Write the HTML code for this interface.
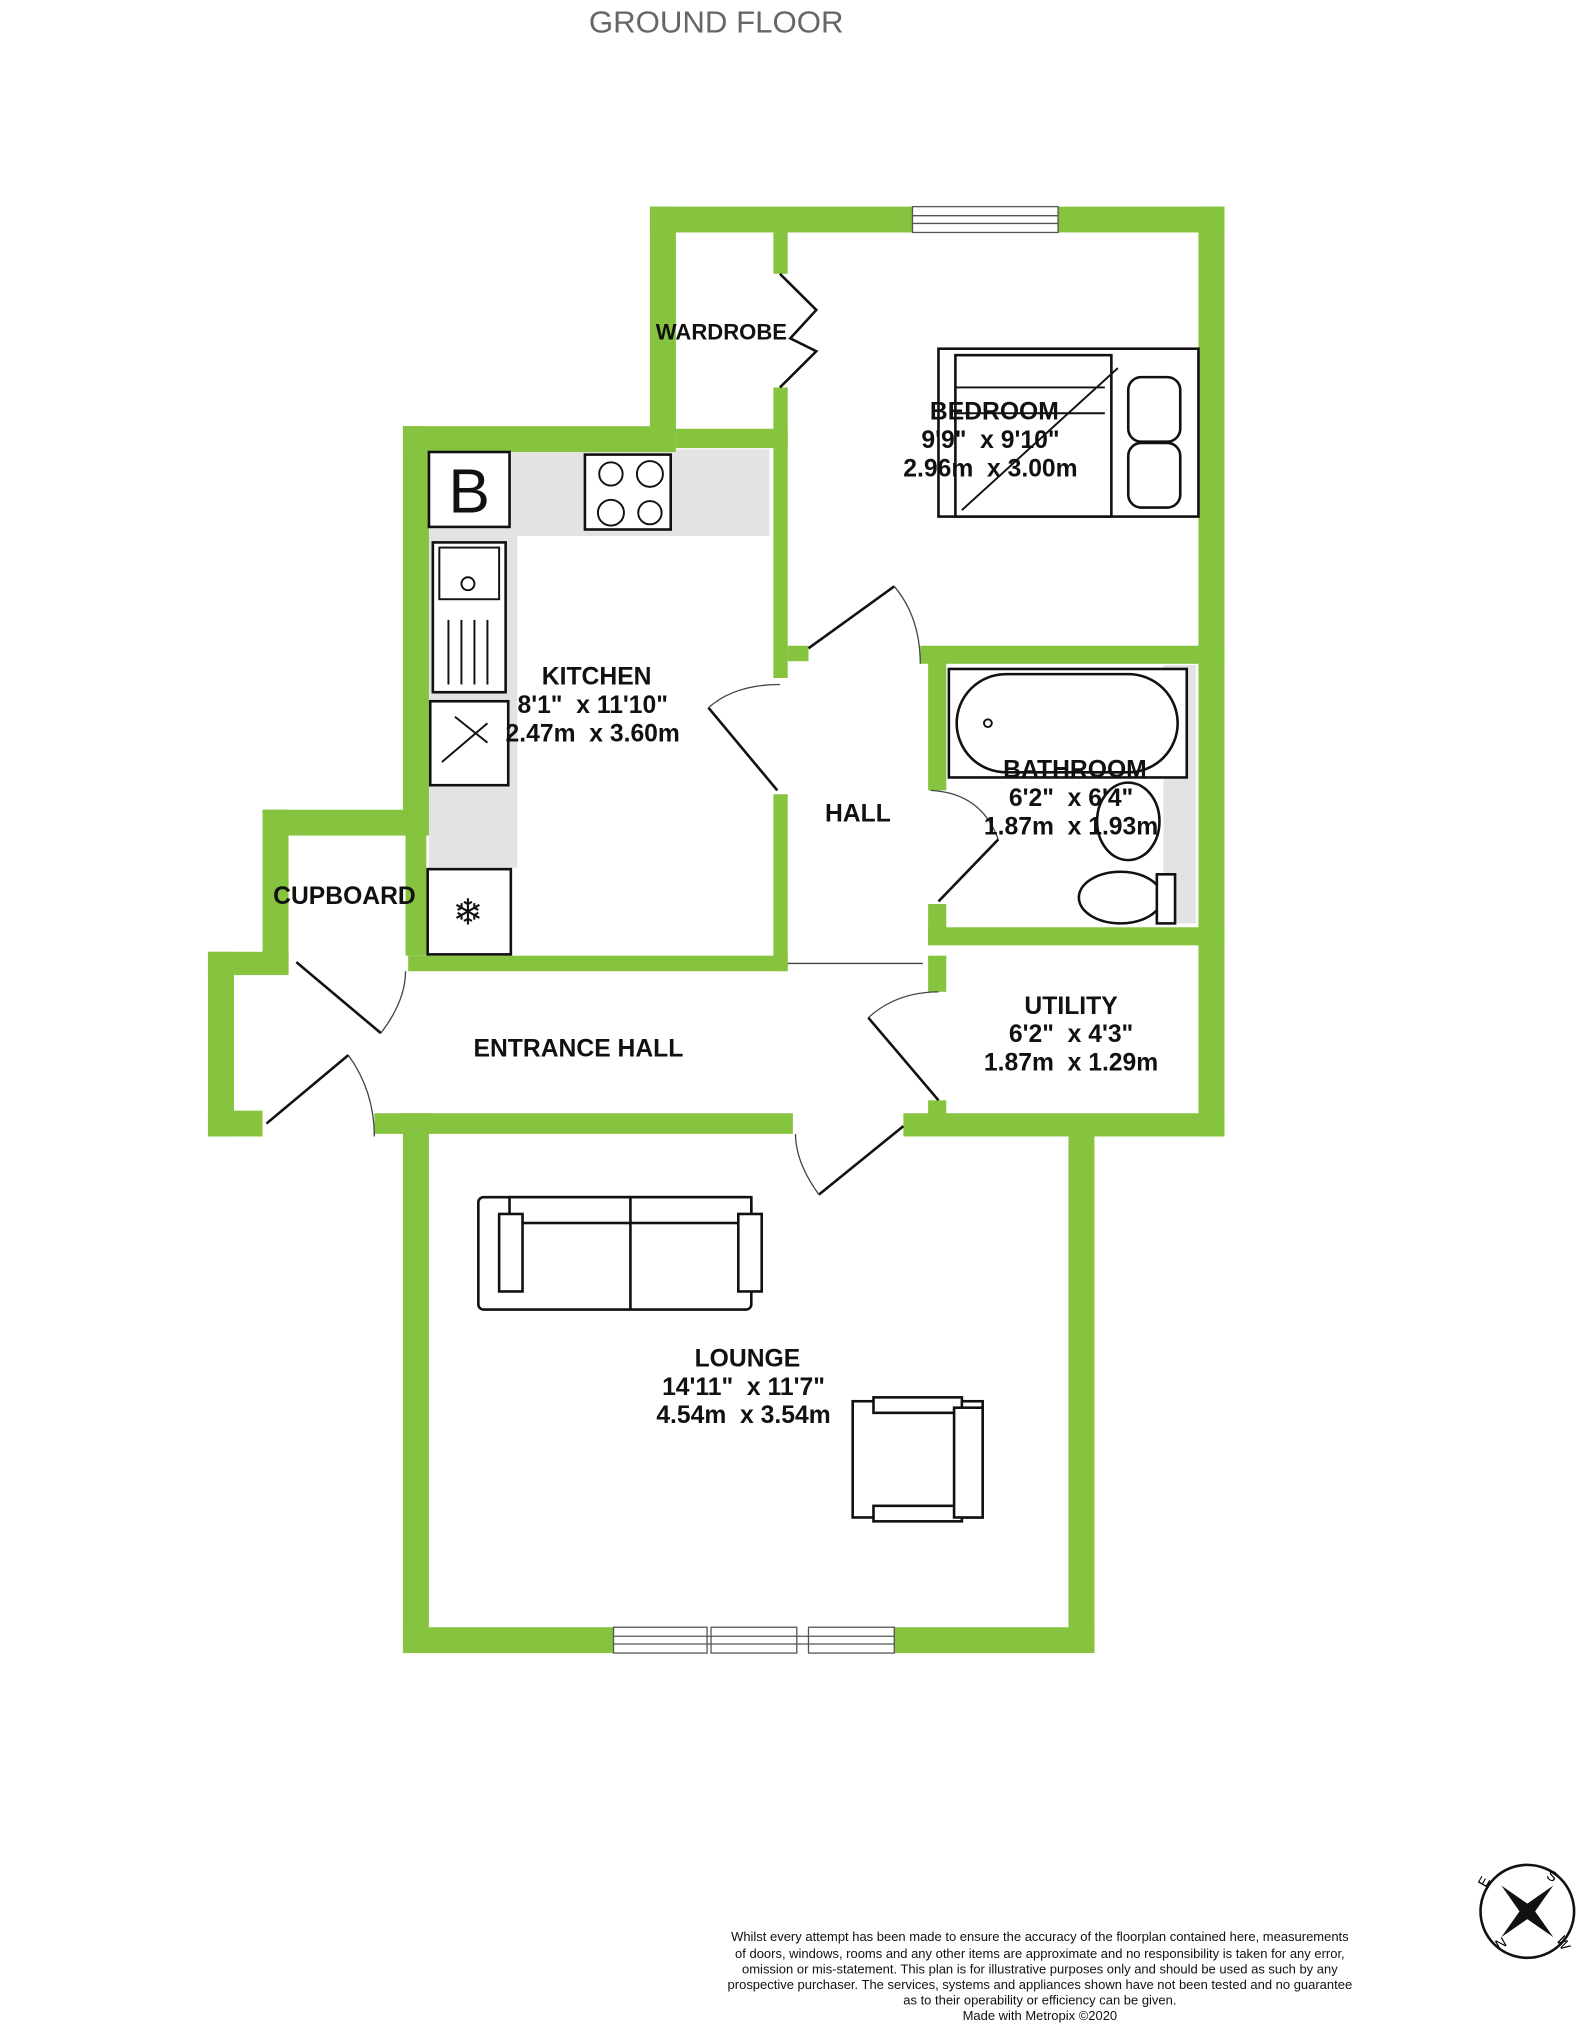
<!DOCTYPE html>
<html><head><meta charset="utf-8"><style>
html,body{margin:0;padding:0;background:#fff;}
svg{display:block;}
text{font-family:"Liberation Sans",Arial,sans-serif;white-space:pre;}
.l{font-weight:bold;font-size:19px;fill:#111;text-anchor:middle;}
</style></head><body>
<svg width="1591" height="2025" viewBox="0 0 1224 1568" preserveAspectRatio="none" xmlns="http://www.w3.org/2000/svg">
<text x="551" y="25" font-size="24" fill="#666" text-anchor="middle">GROUND FLOOR</text>
<rect x="330" y="348" width="262" height="67" fill="#e3e3e3"/>
<rect x="330" y="415" width="68" height="257" fill="#e3e3e3"/>
<rect x="895" y="515" width="25" height="200" fill="#e3e3e3"/>
<g fill="#86c440">
<rect x="500" y="160" width="202" height="20"/><rect x="814" y="160" width="128" height="20"/>
<rect x="500" y="160" width="20" height="175"/>
<rect x="922" y="160" width="20" height="720"/>
<rect x="310" y="330" width="210" height="20"/><rect x="520" y="332" width="86" height="15"/>
<rect x="595" y="180" width="11" height="32"/><rect x="595" y="300" width="11" height="225"/>
<rect x="595" y="615" width="11" height="137"/>
<rect x="606" y="500" width="16" height="12"/><rect x="708" y="500" width="234" height="14"/>
<rect x="714" y="512" width="14" height="100"/><rect x="714" y="700" width="14" height="30"/>
<rect x="714" y="718" width="228" height="14"/>
<rect x="714" y="740" width="14" height="28"/><rect x="714" y="852" width="14" height="26"/>
<rect x="310" y="330" width="20" height="306"/>
<rect x="314" y="740" width="292" height="12"/>
<rect x="202" y="627" width="128" height="20"/><rect x="202" y="627" width="20" height="125"/>
<rect x="312" y="636" width="16" height="104"/>
<rect x="160" y="737" width="62" height="18"/><rect x="160" y="737" width="20" height="143"/>
<rect x="160" y="860" width="42" height="20"/>
<rect x="288" y="862" width="322" height="16"/><rect x="695" y="862" width="247" height="18"/>
<rect x="310" y="862" width="20" height="418"/><rect x="822" y="870" width="20" height="410"/>
<rect x="310" y="1260" width="162" height="20"/><rect x="688" y="1260" width="154" height="20"/>
</g>
<g fill="#fff" stroke="#555" stroke-width="1">
<rect x="702" y="160" width="112" height="20"/><line x1="702" y1="167" x2="814" y2="167"/><line x1="702" y1="173" x2="814" y2="173"/>
<rect x="472" y="1260" width="72" height="20"/><rect x="547" y="1260" width="66" height="20"/><rect x="622" y="1260" width="66" height="20"/>
<line x1="472" y1="1267" x2="688" y2="1267"/><line x1="472" y1="1273" x2="688" y2="1273"/>
</g>
<g fill="none" stroke="#111" stroke-width="2">
<line x1="622" y1="502" x2="688" y2="454"/><line x1="545" y1="548" x2="598" y2="612"/>
<line x1="722" y1="698" x2="768" y2="650"/><line x1="668" y1="788" x2="722" y2="852"/>
<line x1="630" y1="925" x2="695" y2="872"/><line x1="228" y1="745" x2="293" y2="800"/>
<line x1="205" y1="870" x2="268" y2="817"/>
<polyline points="600,212 628,240 608,262 628,272 600,300"/>
</g>
<g fill="none" stroke="#444" stroke-width="1">
<path d="M688,454 Q708,478 708,514"/><path d="M545,548 Q565,530 600,530"/>
<path d="M716,612 Q755,614 768,650"/><path d="M668,788 Q690,768 722,768"/>
<path d="M630,925 Q612,900 612,878"/><path d="M293,800 Q312,775 312,752"/>
<path d="M268,817 Q288,845 288,880"/>
<line x1="606" y1="746" x2="710" y2="746"/>
</g>
<g fill="#fff" stroke="#111" stroke-width="2">
<rect x="330" y="350" width="62" height="58"/>
<rect x="450" y="352" width="66" height="58"/>
<rect x="333" y="420" width="56" height="116"/>
<rect x="331" y="543" width="60" height="65"/>
<rect x="329" y="673" width="64" height="66"/>
<rect x="730" y="518" width="183" height="84"/>
<rect x="736" y="522" width="170" height="76" rx="38"/>
<rect x="368" y="927" width="210" height="87" rx="4"/>
<rect x="392" y="927" width="186" height="20"/>
<line x1="485" y1="927" x2="485" y2="1014"/>
<rect x="384" y="940" width="18" height="60"/><rect x="568" y="940" width="18" height="60"/>
<rect x="656" y="1085" width="100" height="90"/>
<rect x="672" y="1082" width="68" height="12"/><rect x="672" y="1166" width="68" height="12"/>
<rect x="734" y="1090" width="22" height="85"/>
<rect x="722" y="270" width="200" height="130"/>
<rect x="735" y="275" width="120" height="125"/>
<rect x="868" y="292" width="40" height="50" rx="10"/><rect x="868" y="343" width="40" height="50" rx="10"/>
<ellipse cx="862" cy="695" rx="32" ry="20"/><rect x="890" y="677" width="14" height="38"/>
<ellipse cx="868" cy="636" rx="24" ry="30"/>
</g>
<g fill="none" stroke="#111" stroke-width="1.5">
<circle cx="470" cy="367" r="9"/><circle cx="500" cy="367" r="10"/><circle cx="470" cy="397" r="10"/><circle cx="500" cy="397" r="9"/>
<rect x="338" y="424" width="46" height="40"/><circle cx="360" cy="452" r="5"/>
<path d="M340,590 L375,560 M350,555 L375,575"/>
<line x1="345" y1="480" x2="345" y2="530"/><line x1="355" y1="480" x2="355" y2="530"/><line x1="365" y1="480" x2="365" y2="530"/><line x1="375" y1="480" x2="375" y2="530"/>
<line x1="735" y1="300" x2="850" y2="300"/><line x1="735" y1="320" x2="850" y2="320"/><line x1="740" y1="395" x2="860" y2="285"/>
<circle cx="760" cy="560" r="3"/>
</g>
<text x="361" y="397" font-size="48" fill="#111" text-anchor="middle">B</text>
<text x="360" y="716" font-size="28" fill="#111" text-anchor="middle">❄</text>
<text class="l" x="555" y="263" style="font-size:17px">WARDROBE</text>
<text class="l" x="765" y="325">BEDROOM</text><text class="l" x="762" y="347">9'9"  x 9'10"</text><text class="l" x="762" y="369">2.96m  x 3.00m</text>
<text class="l" x="459" y="530">KITCHEN</text><text class="l" x="456" y="552">8'1"  x 11'10"</text><text class="l" x="456" y="574">2.47m  x 3.60m</text>
<text class="l" x="827" y="602">BATHROOM</text><text class="l" x="824" y="624">6'2"  x 6'4"</text><text class="l" x="824" y="646">1.87m  x 1.93m</text>
<text class="l" x="660" y="636">HALL</text>
<text class="l" x="265" y="700">CUPBOARD</text>
<text class="l" x="445" y="818">ENTRANCE HALL</text>
<text class="l" x="824" y="785">UTILITY</text><text class="l" x="824" y="807">6'2"  x 4'3"</text><text class="l" x="824" y="829">1.87m  x 1.29m</text>
<text class="l" x="575" y="1058">LOUNGE</text><text class="l" x="572" y="1080">14'11"  x 11'7"</text><text class="l" x="572" y="1102">4.54m  x 3.54m</text>
<g font-size="10" fill="#111" text-anchor="middle">
<text x="800" y="1503">Whilst every attempt has been made to ensure the accuracy of the floorplan contained here, measurements</text>
<text x="800" y="1516">of doors, windows, rooms and any other items are approximate and no responsibility is taken for any error,</text>
<text x="800" y="1528">omission or mis-statement. This plan is for illustrative purposes only and should be used as such by any</text>
<text x="800" y="1540">prospective purchaser. The services, systems and appliances shown have not been tested and no guarantee</text>
<text x="800" y="1552">as to their operability or efficiency can be given.</text>
<text x="800" y="1564">Made with Metropix ©2020</text>
</g>
<g transform="translate(1175,1480)">
<circle r="36" fill="none" stroke="#111" stroke-width="2"/>
<polygon points="-20,-20 0,-6 20,-20 6,0 20,20 0,6 -20,20 -6,0" fill="#111"/>
<text x="14" y="-26" font-size="11" transform="rotate(30 14 -26)">S</text>
<text x="-32" y="-18" font-size="11" transform="rotate(-60 -32 -18)">E</text>
<text x="-22" y="30" font-size="11" transform="rotate(-30 -22 30)">N</text>
<text x="22" y="22" font-size="11" transform="rotate(60 22 22)">W</text>
</g>
</svg>
</body></html>
